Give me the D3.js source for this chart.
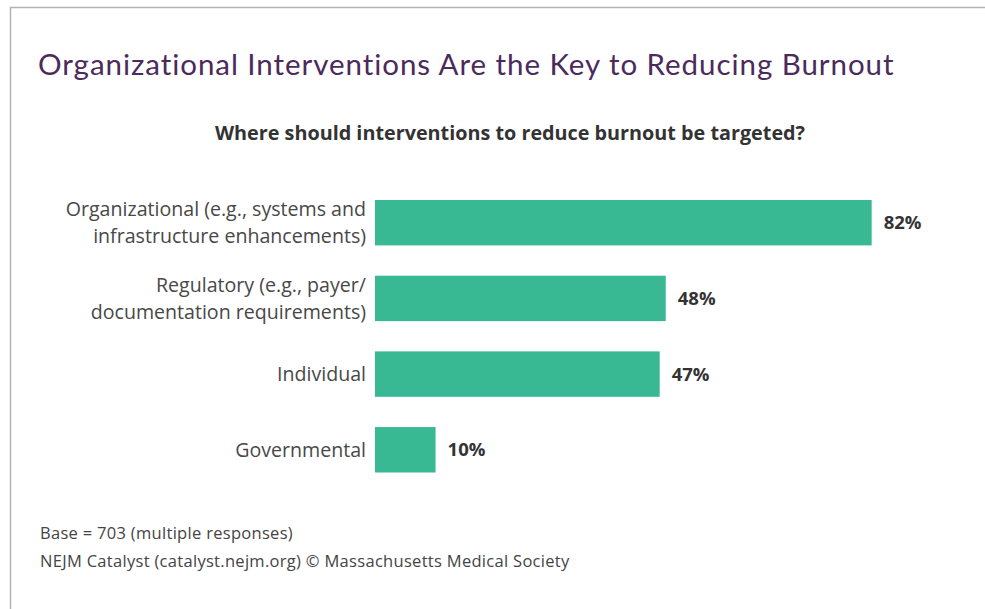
<!DOCTYPE html>
<html>
<head>
<meta charset="utf-8">
<script src="https://cdn.jsdelivr.net/npm/d3@7"></script>
<style>
  body { margin: 0; background: #fff; }
  text { font-family: "Open Sans", Lato, sans-serif; }
</style>
</head>
<body>
<script>
const categories = [
  ["Organizational (e.g., systems and", "infrastructure enhancements)"],
  ["Regulatory (e.g., payer/", "documentation requirements)"],
  ["Individual"],
  ["Governmental"]
];
const values = [82, 48, 47, 10];

const width = 985, height = 609;
const margin = {top: 200, left: 375, bottom: 136.5};

const svg = d3.select("body").append("svg")
    .attr("width", width)
    .attr("height", height);

// frame
svg.append("path")
    .attr("d", `M10.5,${height} V7.5 H${width}`)
    .attr("fill", "none")
    .attr("stroke", "#b4b4b4")
    .attr("stroke-width", 1.5);

svg.append("text")
    .attr("x", 38)
    .attr("y", 75)
    .attr("fill", "#4b2a5c")
    .style("font-family", "Lato, sans-serif")
    .style("font-size", "29.5px")
    .style("letter-spacing", "0.95px")
    .text("Organizational Interventions Are the Key to Reducing Burnout");

svg.append("text")
    .attr("x", 510)
    .attr("y", 140)
    .attr("text-anchor", "middle")
    .attr("fill", "#333")
    .style("font-size", "19.8px")
    .style("font-weight", "bold")
    .text("Where should interventions to reduce burnout be targeted?");

const x = d3.scaleLinear()
    .domain([0, 100])
    .range([margin.left, margin.left + 605.7]);

const y = d3.scaleBand()
    .domain(d3.range(values.length))
    .range([margin.top, height - margin.bottom])
    .paddingInner(0.4)
    .paddingOuter(0);

const row = svg.selectAll(".row")
  .data(values)
  .enter().append("g")
    .attr("class", "row");

row.append("rect")
    .attr("x", x(0))
    .attr("y", (d, i) => y(i))
    .attr("width", d => x(d) - x(0))
    .attr("height", y.bandwidth())
    .attr("fill", "#38b994");

row.append("text")
    .attr("x", d => x(d) + 12)
    .attr("y", (d, i) => y(i) + y.bandwidth() / 2)
    .attr("dy", "0.35em")
    .attr("fill", "#333")
    .style("font-size", "18.5px")
    .style("font-weight", "bold")
    .text(d => d + "%");

const lbl = row.append("text")
    .attr("text-anchor", "end")
    .attr("fill", "#484848")
    .style("font-size", "19.6px")
    .attr("y", (d, i) => y(i) + y.bandwidth() / 2);

lbl.selectAll("tspan")
  .data((d, i) => categories[i].map((s, j, a) => ({s, j, n: a.length})))
  .enter().append("tspan")
    .attr("x", 366)
    .attr("dy", d => d.j === 0 ? (0.35 - (d.n - 1) * 0.68) + "em" : "1.36em")
    .text(d => d.s);

const foot = ["Base = 703 (multiple responses)",
  "NEJM Catalyst (catalyst.nejm.org) \u00a9 Massachusetts Medical Society"];

svg.selectAll(".foot")
  .data(foot)
  .enter().append("text")
    .attr("class", "foot")
    .attr("x", 40)
    .attr("y", (d, i) => 539 + i * 28)
    .attr("fill", "#444")
    .style("font-size", "16.5px")
    .style("letter-spacing", "0.3px")
    .text(d => d);
</script>
</body>
</html>
